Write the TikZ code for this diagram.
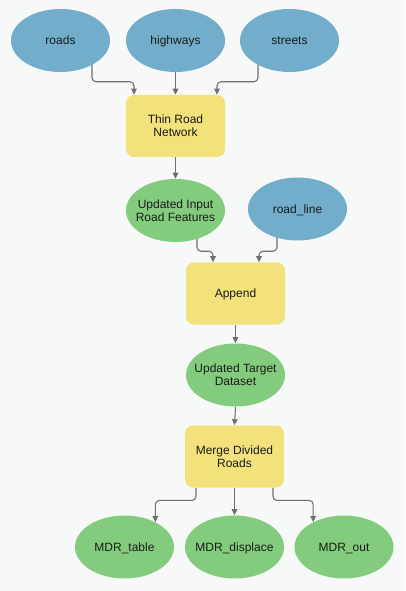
\documentclass[tikz,border=0pt]{standalone}
\usepackage{fontspec}
\setmainfont{Liberation Sans}
\usetikzlibrary{shapes.geometric,arrows.meta,calc,backgrounds}

% 颜色
\definecolor{bgcol}{HTML}{F7F8F8}
\definecolor{incol}{HTML}{72AECC}
\definecolor{outcol}{HTML}{84CC7D}
\definecolor{toolcol}{HTML}{F3E17B}
\definecolor{linecol}{HTML}{6F6F6F}
\definecolor{txtcol}{HTML}{1A1A1A}

\begin{document}
\begin{tikzpicture}[
      % 一个单位 = 参考图中的一个像素，y 向下
      x=0.75pt,
      y=-0.75pt,
      font=\fontsize{9}{9.75}\selectfont,
      data/.style={ellipse, minimum width=74.25pt, minimum height=47.25pt,
        inner xsep=-7pt, inner ysep=0pt, text depth=0pt, align=center, text=txtcol},
      indata/.style={data, fill=incol},
      outdata/.style={data, fill=outcol},
      tool/.style={rectangle, rounded corners=6pt, fill=toolcol, text=txtcol,
        minimum width=74.25pt, minimum height=46.5pt, inner sep=0pt,
        text depth=0pt, align=center},
      flow/.style={draw=linecol, line width=0.8pt, rounded corners=3pt,
        -{Triangle[width=4.2pt,length=4.5pt]}},
    ]
    
    % 背景
    \useasboundingbox (0,0) rectangle (405,591);
    \begin{scope}[on background layer]
      \fill[bgcol] (0,0) rectangle (405,591);
    \end{scope}
    
    % 输入数据
    \node[indata] (roads)    at (60.5,40.5)  {roads};
    \node[indata] (highways) at (175.5,40.5) {highways};
    \node[indata] (streets)  at (289.5,40.5) {streets};
    
    % 第一个工具及其输出
    \node[tool]    (thin)   at (175.5,126)   {Thin Road\\Network};
    \node[outdata] (updin)  at (175.5,210.5) {Updated Input\\Road Features};
    \node[indata]  (rline)  at (297.5,209)   {road\_line};
    
    % 第二个工具
    \node[tool]    (append) at (235.5,293.5) {Append};
    \node[outdata] (target) at (235.5,375)   {Updated Target\\Dataset};
    
    % 第三个工具及三个输出
    \node[tool]    (merge)  at (234.5,456.5) {Merge Divided\\Roads};
    \node[outdata] (mtable) at (124.5,547)   {MDR\_table};
    \node[outdata] (mdisp)  at (234.5,547)   {MDR\_displace};
    \node[outdata] (mout)   at (344,547)     {MDR\_out};
    
    % 连线（放在背景层，使其被节点遮住）
    \begin{scope}[on background layer]
      \draw[flow] ($(roads.center)+(31.5,0)$)
        |- ($(thin.north)+(-41.5,-13)$) -- ($(thin.north)+(-41.5,0)$);
      \draw[flow] (highways.south) -- (thin.north);
      \draw[flow] ($(streets.center)+(-31.5,0)$)
        |- ($(thin.north)+(41.5,-13)$) -- ($(thin.north)+(41.5,0)$);
      
      \draw[flow] (thin.south) -- (updin.north);
      \draw[flow] ($(updin.center)+(21.5,0)$)
        |- ($(append.north)+(-22.5,-11)$) -- ($(append.north)+(-22.5,0)$);
      \draw[flow] ($(rline.center)+(-20.5,0)$)
        |- ($(append.north)+(23.5,-11)$) -- ($(append.north)+(23.5,0)$);
      
      \draw[flow] (append.south) -- (target.north);
      \draw[flow] (target.south) -- (merge.north);
      
      \draw[flow] ($(merge.south)+(-38.5,0)$)
        |- ($(mtable.39)+(0,-21.6)$) -- (mtable.39);
      \draw[flow] (merge.south) -- (mdisp.north);
      \draw[flow] ($(merge.south)+(38.5,0)$)
        |- ($(mout.141)+(0,-21.6)$) -- (mout.141);
    \end{scope}
    
    \end{tikzpicture}
\end{document}
